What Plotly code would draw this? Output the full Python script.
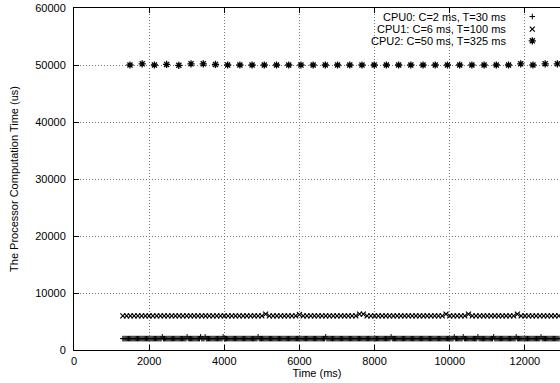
import plotly.graph_objects as go

# ---- data ----
cpu0_start, cpu0_period = 1300, 30     # ms
cpu1_start, cpu1_period = 1300, 100    # ms
cpu2_start, cpu2_period = 1490, 325    # ms

cpu0_values = [
    2000, 2000, 2000, 2000, 2000, 2000, 2000, 2000, 2000, 2000, 2000, 2000, 2000, 2000, 2000, 2000, 2000, 2000, 2000, 2000,
    2000, 2000, 2000, 2000, 2000, 2000, 2000, 2000, 2000, 2000, 2000, 2000, 2000, 2000, 2000, 2300, 2000, 2000, 2000, 2000,
    2000, 2000, 2000, 2000, 2000, 2000, 2000, 2000, 2000, 2000, 2000, 2000, 2000, 2000, 2000, 2000, 2000, 2300, 2000, 2000,
    2000, 2000, 2000, 2000, 2000, 2000, 2000, 2000, 2000, 2300, 2000, 2000, 2000, 2300, 2000, 2000, 2000, 2000, 2000, 2000,
    2000, 2000, 2000, 2000, 2000, 2000, 2000, 2000, 2000, 2300, 2000, 2000, 2000, 2000, 2000, 2000, 2000, 2000, 2000, 2000,
    2000, 2000, 2000, 2000, 2000, 2000, 2000, 2000, 2000, 2000, 2000, 2000, 2000, 2000, 2000, 2000, 2000, 2000, 2000, 2000,
    2300, 2000, 2000, 2000, 2000, 2000, 2000, 2000, 2000, 2000, 2000, 2000, 2000, 2000, 2000, 2000, 2000, 2000, 2000, 2000,
    2000, 2000, 2000, 2000, 2000, 2000, 2000, 2000, 2000, 2000, 2000, 2000, 2000, 2000, 2000, 2000, 2000, 2000, 2000, 2000,
    2000, 2000, 2000, 2000, 2000, 2000, 2000, 2000, 2000, 2000, 2000, 2000, 2000, 2000, 2000, 2000, 2000, 2000, 2000, 2000,
    2300, 2000, 2000, 2000, 2000, 2000, 2000, 2000, 2000, 2000, 2000, 2000, 2000, 2000, 2000, 2000, 2000, 2000, 2000, 2000,
    2000, 2000, 2000, 2000, 2000, 2000, 2000, 2000, 2000, 2000, 2000, 2000, 2000, 2000, 2000, 2000, 2000, 2000, 2000, 2000,
    2000, 2000, 2000, 2000, 2000, 2000, 2000, 2000, 2000, 2000, 2000, 2000, 2000, 2000, 2000, 2000, 2000, 2000, 2300, 2000,
    2000, 2000, 2000, 2000, 2000, 2000, 2000, 2000, 2000, 2000, 2000, 2000, 2000, 2000, 2000, 2000, 2000, 2000, 2000, 2000,
    2000, 2000, 2000, 2000, 2000, 2000, 2000, 2000, 2000, 2000, 2000, 2000, 2000, 2000, 2000, 2000, 2000, 2000, 2000, 2000,
    2000, 2000, 2000, 2000, 2000, 2000, 2000, 2000, 2000, 2000, 2000, 2000, 2000, 2000, 2300, 2000, 2000, 2000, 2000, 2000,
    2000, 2000, 2300, 2000, 2000, 2000, 2000, 2000, 2000, 2000, 2000, 2000, 2000, 2000, 2000, 2300, 2000, 2000, 2000, 2000,
    2000, 2000, 2000, 2000, 2000, 2000, 2000, 2000, 2000, 2300, 2000, 2000, 2000, 2000, 2000, 2000, 2000, 2000, 2000, 2000,
    2000, 2000, 2000, 2000, 2000, 2000, 2000, 2000, 2000, 2300, 2000, 2000, 2000, 2000, 2000, 2000, 2000, 2000, 2000, 2000,
    2000, 2000, 2000, 2000, 2000, 2000, 2000, 2000, 2000, 2000, 2000, 2300, 2000, 2000, 2000, 2000, 2000, 2000, 2000, 2000,
    2000, 2000, 2000, 2000, 2000, 2000, 2000, 2000, 2000,
]

cpu1_values = [
    6000, 6000, 6000, 6000, 6000, 6000, 6000, 6000, 6000, 6000, 6000, 6000, 6000, 6000, 6000, 6000, 6000, 6000, 6000, 6000,
    6000, 6000, 6000, 6000, 6000, 6000, 6000, 6000, 6000, 6000, 6000, 6000, 6000, 6000, 6000, 6000, 6000, 6000, 6300, 6000,
    6000, 6000, 6000, 6000, 6000, 6000, 6000, 6200, 6000, 6000, 6000, 6000, 6000, 6000, 6000, 6000, 6000, 6000, 6000, 6000,
    6000, 6000, 6000, 6300, 6300, 6000, 6000, 6000, 6000, 6000, 6000, 6000, 6000, 6000, 6000, 6000, 6000, 6000, 6000, 6000,
    6000, 6000, 6000, 6000, 6000, 6000, 6300, 6000, 6000, 6000, 6000, 6000, 6300, 6000, 6000, 6000, 6000, 6000, 6000, 6000,
    6000, 6000, 6000, 6000, 6000, 6300, 6000, 6000, 6000, 6000, 6000, 6000, 6000, 6000, 6000, 6000, 6000,
]

cpu2_values = [
    50000, 50200, 50000, 50100, 49950, 50200, 50200, 50100, 50000, 50000, 50000, 50000,
    50000, 50000, 50000, 50000, 50000, 50000, 50000, 50000, 50000, 50000, 50000, 50000,
    50000, 50000, 50000, 50000, 50000, 50000, 50000, 50000, 50200, 50000, 50200, 50200,
]

legend_labels = ["CPU0: C=2 ms, T=30 ms", "CPU1: C=6 ms, T=100 ms", "CPU2: C=50 ms, T=325 ms"]
x_ticks = [0, 2000, 4000, 6000, 8000, 10000, 12000]
y_ticks = [0, 10000, 20000, 30000, 40000, 50000, 60000]

cpu0_times = [cpu0_start + i * cpu0_period for i in range(len(cpu0_values))]
cpu1_times = [cpu1_start + i * cpu1_period for i in range(len(cpu1_values))]
cpu2_times = [cpu2_start + i * cpu2_period for i in range(len(cpu2_values))]

FONT = "Liberation Sans, Arial, Helvetica, sans-serif"
symbols = ["cross-thin-open", "x-thin-open", "asterisk-open"]
sizes = [4, 5, 6]
widths = [1, 1.2, 1.3]

fig = go.Figure()
series = [(cpu0_times, cpu0_values), (cpu1_times, cpu1_values), (cpu2_times, cpu2_values)]
for (xs, ys), sym, sz, lw in zip(series, symbols, sizes, widths):
    fig.add_trace(go.Scatter(
        x=xs, y=ys, mode="markers", showlegend=False,
        marker=dict(symbol=sym, size=sz, color="black", line=dict(color="black", width=lw)),
        cliponaxis=False,
    ))

# custom key: text right-aligned, symbol to its right (gnuplot style)
key_rows_y = [0.975, 0.938, 0.904]   # in plot-area fraction
for lab, sym, sz, lw, yy in zip(legend_labels, symbols, sizes, widths, key_rows_y):
    fig.add_annotation(text=lab, x=0.894, y=yy, xref="paper", yref="paper",
                       xanchor="right", yanchor="middle", showarrow=False,
                       font=dict(family=FONT, size=11, color="black"))
    fig.add_trace(go.Scatter(
        x=[0.943], y=[yy], xaxis="x2", yaxis="y2", mode="markers", showlegend=False,
        marker=dict(symbol=sym, size=sz, color="black", line=dict(color="black", width=lw)),
        hoverinfo="skip",
    ))

axis_common = dict(
    showline=True, linecolor="black", linewidth=1,
    ticks="inside", ticklen=5, tickcolor="black", tickwidth=1,
    showgrid=True, gridcolor="#777777", gridwidth=1, griddash="1px,2px",
    zeroline=False, automargin=False,
    tickfont=dict(family=FONT, size=11, color="black"),
)

fig.update_layout(
    width=560, height=383,
    margin=dict(l=74, r=0, t=8, b=33, autoexpand=False),
    paper_bgcolor="white", plot_bgcolor="white",
    font=dict(family=FONT, size=11, color="black"),
    hovermode=False,
    xaxis=dict(
        range=[0, 12935], tickvals=x_ticks, ticktext=[str(v) for v in x_ticks], mirror="ticks",
        title=dict(text="Time (ms)", standoff=0, font=dict(family=FONT, size=11)),
        ticklabelstandoff=1,
        **axis_common,
    ),
    yaxis=dict(
        range=[0, 60000], tickvals=y_ticks, ticktext=[str(v) for v in y_ticks], mirror=False,
        title=dict(text="The Processor Computation Time (us)", standoff=14, font=dict(family=FONT, size=11)),
        ticklabelstandoff=5,
        **axis_common,
    ),
    xaxis2=dict(overlaying="x", range=[0, 1], visible=False, fixedrange=True),
    yaxis2=dict(overlaying="y", range=[0, 1], visible=False, fixedrange=True),
)

fig.write_html("out.html", config={"displayModeBar": False, "staticPlot": True},
               post_script="document.body.style.margin='0';document.body.style.overflow='hidden';")
